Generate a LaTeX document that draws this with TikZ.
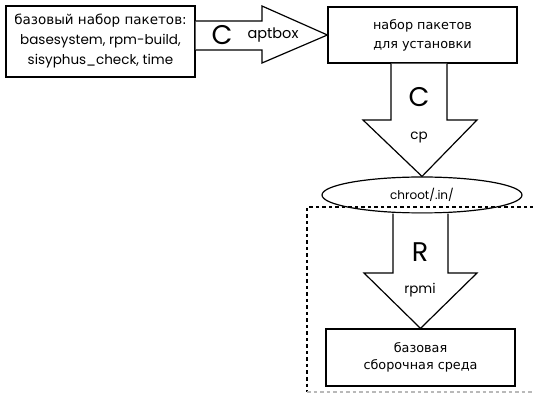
\documentclass[tikz,border=0pt]{standalone}
\usepackage{fontspec}
\setmainfont{Poppins}
\newfontfamily\cyr{DejaVu Sans}
\usetikzlibrary{shapes.geometric}
\tikzset{
  x=1pt, y=-1pt,
  box/.style={draw, line width=1.2pt, inner sep=0pt, align=center,
    font=\cyr\fontsize{12.8}{19}\selectfont},
  blockarrow/.style={draw, line width=1.2pt, line join=miter, fill=white},
  big/.style={font=\fontsize{27}{27}\selectfont},
  small/.style={font=\fontsize{13.5}{13.5}\selectfont},
  frame/.style={line width=1.2pt, dash pattern=on 3.5pt off 3pt}
}
\begin{document}
\begin{tikzpicture}
\useasboundingbox (0,0) rectangle (533,395);

% packages' boxes
\node[box, minimum width=189pt, minimum height=71pt,
  font=\fontsize{13.5}{20}\selectfont] (base) at (100.5,41.5)
  {{\cyr базовый набор пакетов:}\\basesystem, rpm-build,\\sisyphus\_check, time};
\node[box, minimum width=189pt, minimum height=56pt] (set) at (422.5,35)
  {набор пакетов\\для установки};
\node[ellipse, draw, line width=1.2pt, minimum width=200pt, minimum height=36pt,
  inner sep=0pt, font=\fontsize{12}{12}\selectfont] (chroot) at (422,195) {chroot/.in/};
\node[box, minimum width=189pt, minimum height=57pt, font=\cyr\fontsize{12.8}{17.5}\selectfont]
  (env) at (420.5,357.5) {базовая\\сборочная среда};

% build environment frame
\draw[frame] (540,207) -- (307,207) -- (307,392);
\draw[frame, gray!55] (307,392) -- (540,392);

% aptbox arrow
\draw[blockarrow] (base.east |- 0,21) -- (262,21) -- (262,6) -- (set.west |- 0,35)
  -- (262,63) -- (262,50) -- (base.east |- 0,50);
\node[big] (c1) at (222,35) {C};
\node[small, font=\fontsize{14.5}{14.5}\selectfont] (l1) at (273,35) {aptbox};

% cp arrow
\draw[blockarrow] (391,0 |- set.south) -- (391,120) -- (363,120) -- (chroot.north)
  -- (477,120) -- (447,120) -- (447,0 |- set.south);
\node[big] (c2) at (419,97) {C};
\node[small] (l2) at (419,137) {cp};

% rpmi arrow
\draw[blockarrow] (393,0 |- chroot.south) -- (393,273) -- (364,273) -- (env.north)
  -- (477,273) -- (448,273) -- (448,0 |- chroot.south);
\node[big] (c3) at (420,252) {R};
\node[small] (l3) at (420,290) {rpmi};
\end{tikzpicture}
\end{document}
